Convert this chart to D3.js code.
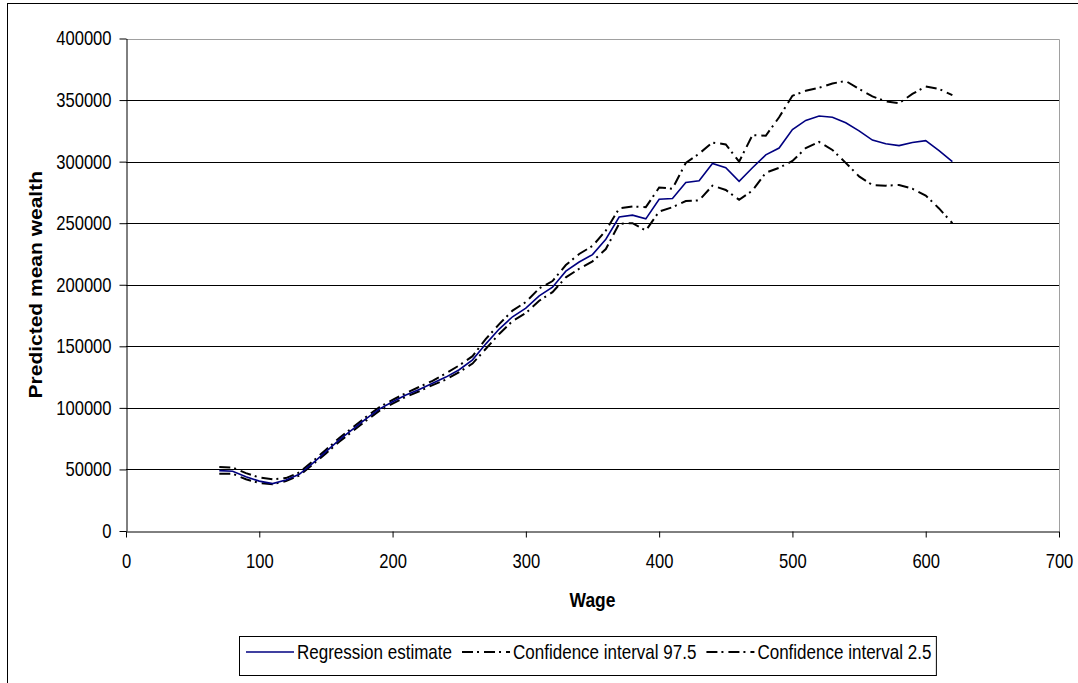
<!DOCTYPE html>
<html>
<head>
<meta charset="utf-8">
<script src="https://cdn.jsdelivr.net/npm/d3@7"></script>
<style>
  body { margin: 0; background: #fff; }
  text { font-family: "Liberation Sans", Arial, sans-serif; }
</style>
</head>
<body>
<div id="chart"></div>
<script>
const wages = [70, 80, 90, 100, 110, 120, 130, 140, 150, 160, 170, 180, 190, 200,
  210, 220, 230, 240, 250, 260, 270, 280, 290, 300, 310, 320, 330, 340, 350, 360,
  370, 380, 390, 400, 410, 420, 430, 440, 450, 460, 470, 480, 490, 500, 510, 520,
  530, 540, 550, 560, 570, 580, 590, 600, 610, 620];

const regression = [49000, 48500, 44000, 40500, 38500, 41500, 46000, 55000, 64500, 74000,
  82500, 91000, 99000, 105000, 110500, 115000, 120000, 125000, 131000, 139000,
  152000, 164000, 174000, 181000, 191000, 198000, 211000, 218500, 224500, 237000,
  255000, 256500, 253500, 269500, 270000, 283000, 284500, 298500, 295000, 284000,
  295000, 305500, 311000, 326000, 333500, 337000, 336000, 331500, 325000, 317500,
  314500, 313000, 315500, 317000, 309000, 300000];

const ciUpper = [52000, 51500, 47000, 43500, 42000, 43000, 47500, 56500, 66000, 75500,
  84000, 92500, 100500, 106500, 112000, 117000, 122000, 128000, 134500, 142000,
  156000, 168000, 179000, 186000, 197000, 203000, 216000, 225000, 231500, 244000,
  262000, 263500, 263000, 279000, 278000, 299000, 306500, 315500, 314000, 300000,
  321500, 321000, 336000, 353500, 357500, 360000, 363500, 365500, 359000, 353000,
  349000, 347500, 355000, 361000, 359000, 354000];

const ciLower = [46500, 46500, 42000, 39000, 38000, 40500, 45000, 54000, 63000, 72500,
  81000, 89500, 97500, 103500, 109000, 113500, 118500, 123000, 129000, 136000,
  148000, 160000, 170500, 177000, 187000, 194000, 206000, 213000, 219000, 229000,
  249500, 250000, 244000, 259500, 263000, 268000, 268500, 280500, 277000, 269000,
  276500, 291000, 295000, 300500, 311000, 316000, 309500, 299000, 288000, 281000,
  280500, 281000, 278000, 272500, 262000, 250000];

const xTicks = [0, 100, 200, 300, 400, 500, 600, 700];
const yTicks = [0, 50000, 100000, 150000, 200000, 250000, 300000, 350000, 400000];

const seriesNames = ["Regression estimate", "Confidence interval 97.5", "Confidence interval 2.5"];

const width = 1078;
const height = 683;
const plot = { left: 126, right: 1059, top: 38.5, bottom: 531 };
const squeeze = 0.83; // text in the source is horizontally condensed
const dashDot = "11,4,2,5";

const svg = d3.select('#chart')
  .append('svg')
  .attr('width', width)
  .attr('height', height);

svg.append('rect')
  .attr('width', width)
  .attr('height', height)
  .attr('fill', '#fff');

// outer chart frame (right and bottom edges fall outside the picture)
svg.append('rect')
  .attr('x', 7.5)
  .attr('y', 3.5)
  .attr('width', width + 20)
  .attr('height', height + 20)
  .attr('fill', 'none')
  .attr('stroke', '#000')
  .attr('stroke-width', 1);

const xScale = d3.scaleLinear()
  .domain([0, 700])
  .range([plot.left, plot.right]);
const yScale = d3.scaleLinear()
  .domain([0, 400000])
  .range([plot.bottom, plot.top]);

// gridlines
svg.append('g')
  .selectAll('line')
  .data(yTicks.filter(d => d > 0 && d < 400000))
  .enter()
  .append('line')
  .attr('x1', plot.left)
  .attr('x2', plot.right)
  .attr('y1', d => Math.round(yScale(d)) + 0.5)
  .attr('y2', d => Math.round(yScale(d)) + 0.5)
  .attr('stroke', '#000')
  .attr('stroke-width', 1);

// plot area border, top and right
svg.append('path')
  .attr('d', `M${plot.left},${Math.round(plot.top) + 0.5}H${plot.right + 0.5}V${plot.bottom}`)
  .attr('fill', 'none')
  .attr('stroke', '#a0a0a0')
  .attr('stroke-width', 1);

const yAxis = d3.axisLeft(yScale)
  .tickValues(yTicks)
  .tickSize(7)
  .tickPadding(11)
  .tickSizeOuter(0)
  .tickFormat(d3.format('d'));
const xAxis = d3.axisBottom(xScale)
  .tickValues(xTicks)
  .tickSize(6)
  .tickPadding(16)
  .tickSizeOuter(0);

const yAxisG = svg.append('g')
  .attr('transform', `translate(${plot.left + 0.5},0)`)
  .call(yAxis);
const xAxisG = svg.append('g')
  .attr('transform', `translate(0,${Math.round(plot.bottom) + 0.5})`)
  .call(xAxis);

[yAxisG, xAxisG].forEach(g => {
  g.selectAll('path, line').attr('stroke', '#000');
  g.selectAll('text')
    .attr('font-size', 20)
    .attr('font-family', '"Liberation Sans", Arial, sans-serif')
    .attr('fill', '#000')
    .attr('transform', `scale(${squeeze},1)`);
});

// axis titles
svg.append('text')
  .attr('transform', `translate(${(plot.left + plot.right) / 2},607) scale(${squeeze},1)`)
  .attr('text-anchor', 'middle')
  .attr('font-size', 21)
  .attr('font-weight', 'bold')
  .text('Wage');

svg.append('text')
  .attr('transform', `translate(36,${(plot.top + plot.bottom) / 2}) scale(${squeeze},1) rotate(-90)`)
  .attr('text-anchor', 'middle')
  .attr('dy', '0.36em')
  .attr('font-size', 21)
  .attr('font-weight', 'bold')
  .text('Predicted mean wealth');

// series
const makeLine = values => d3.line()
  .x((d, i) => xScale(wages[i]))
  .y(d => yScale(d))(values);

svg.append('path')
  .attr('d', makeLine(ciUpper))
  .attr('fill', 'none')
  .attr('stroke', '#000')
  .attr('stroke-width', 2)
  .attr('stroke-dasharray', dashDot);

svg.append('path')
  .attr('d', makeLine(ciLower))
  .attr('fill', 'none')
  .attr('stroke', '#000')
  .attr('stroke-width', 2)
  .attr('stroke-dasharray', dashDot);

svg.append('path')
  .attr('d', makeLine(regression))
  .attr('fill', 'none')
  .attr('stroke', '#000080')
  .attr('stroke-width', 1.6);

// legend
const legendG = svg.append('g');
const legendBox = legendG.append('rect')
  .attr('x', 239.5)
  .attr('y', 636.5)
  .attr('height', 39)
  .attr('fill', '#fff')
  .attr('stroke', '#000')
  .attr('stroke-width', 1);

const legendY = 652;
const legendStyles = [
  { color: '#000080', width: 1.6, dash: null },
  { color: '#000', width: 2, dash: dashDot },
  { color: '#000', width: 2, dash: dashDot }
];
let cursor = 246;
seriesNames.forEach((name, i) => {
  const st = legendStyles[i];
  legendG.append('line')
    .attr('x1', cursor)
    .attr('x2', cursor + 48)
    .attr('y1', legendY)
    .attr('y2', legendY)
    .attr('stroke', st.color)
    .attr('stroke-width', st.width)
    .attr('stroke-dasharray', st.dash);
  const t = legendG.append('text')
    .attr('transform', `translate(${cursor + 51},${legendY}) scale(${squeeze},1)`)
    .attr('dy', '0.35em')
    .attr('font-size', 20.5)
    .text(name);
  cursor += 51 + t.node().getComputedTextLength() * squeeze + 10;
});
legendBox.attr('width', cursor - 10 + 5 - 239.5);
</script>
</body>
</html>
